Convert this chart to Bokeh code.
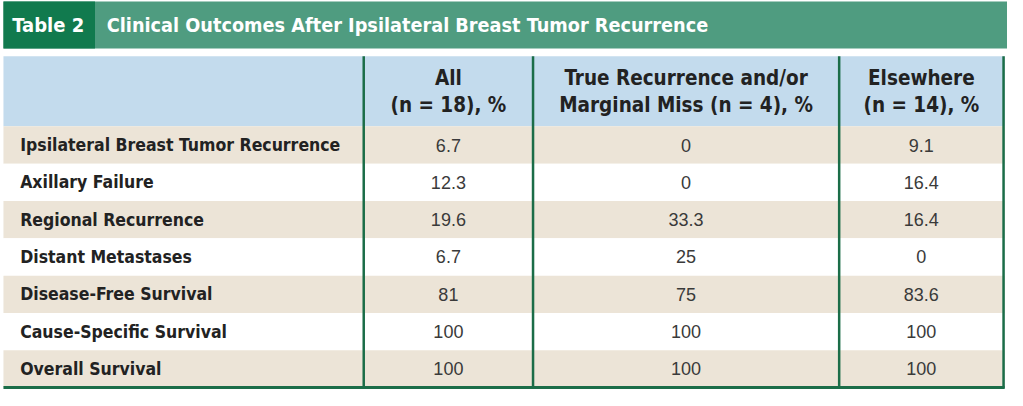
from bokeh.plotting import figure
from bokeh.models import Range1d, ColumnDataSource
from bokeh.core.properties import value
from bokeh.embed import file_html
from bokeh.resources import INLINE

# ---- data ----
table_label = "Table 2"
title = "Clinical Outcomes After Ipsilateral Breast Tumor Recurrence"
col_head_line1 = ["All", "True Recurrence and/or", "Elsewhere"]
col_head_line2 = ["(n = 18), %", "Marginal Miss (n = 4), %", "(n = 14), %"]
outcomes = ["Ipsilateral Breast Tumor Recurrence", "Axillary Failure", "Regional Recurrence",
            "Distant Metastases", "Disease-Free Survival", "Cause-Specific Survival", "Overall Survival"]
all_pct = ["6.7", "12.3", "19.6", "6.7", "81", "100", "100"]
true_rec_pct = ["0", "0", "33.3", "25", "75", "100", "100"]
elsewhere_pct = ["9.1", "16.4", "16.4", "0", "83.6", "100", "100"]

# ---- layout (in reference pixel coordinates) ----
W, H = 1023, 406
COND = value("DejaVu Sans Condensed, Roboto, sans-serif")
PLAIN = value("Liberation Sans")
DARK_GREEN = "#117a4e"
MID_GREEN = "#4f9c80"
LINE_GREEN = "#1b6d48"
BLUE = "#c3dbed"
BEIGE = "#ece4d7"
TEXT = "#222222"
NUM = "#3a3a3a"

p = figure(width=1007, height=390, output_backend="svg", toolbar_location=None,
           x_range=Range1d(0, W), y_range=Range1d(H, 0), min_border=0)
p.axis.visible = False
p.grid.visible = False
p.outline_line_color = None
p.background_fill_color = "white"
p.border_fill_color = "white"

# title bar
p.quad(left=[3], right=[W], top=[1], bottom=[50], fill_color=MID_GREEN, line_color=None)
p.quad(left=[3], right=[96], top=[1], bottom=[50], fill_color=DARK_GREEN, line_color=None)
p.text(x=[12], y=[26], text=[table_label], text_font=COND, text_font_style="bold",
       text_font_size="20px", text_color="white", text_baseline="middle", text_align="left")
p.text(x=[108], y=[26], text=[title], text_font=COND, text_font_style="bold",
       text_font_size="19.7px", text_color="white", text_baseline="middle", text_align="left")

# header band
table_left, table_right = 3, 1020
header_top, header_bottom = 58, 131
row_h = (403 - header_bottom) / len(outcomes)
col_edges = [369, 541, 852, 1019]
col_centers = [(col_edges[i] + col_edges[i + 1]) / 2 for i in range(3)]

p.quad(left=[table_left], right=[table_right], top=[header_top], bottom=[header_bottom],
       fill_color=BLUE, line_color=None)
p.text(x=col_centers, y=[81] * 3, text=col_head_line1, text_font=COND, text_font_style="bold",
       text_font_size="20.5px", text_color=TEXT, text_baseline="middle", text_align="center")
p.text(x=col_centers, y=[109] * 3, text=col_head_line2, text_font=COND, text_font_style="bold",
       text_font_size="20.5px", text_color=TEXT, text_baseline="middle", text_align="center")

# body rows
n = len(outcomes)
tops = [header_bottom + i * row_h for i in range(n)]
src = ColumnDataSource(dict(
    top=tops,
    bottom=[t + row_h for t in tops],
    mid=[t + row_h / 2 for t in tops],
    color=[BEIGE if i % 2 == 0 else "white" for i in range(n)],
    label=outcomes,
    a=all_pct, b=true_rec_pct, c=elsewhere_pct,
))
p.quad(left=table_left, right=table_right, top="top", bottom="bottom", fill_color="color",
       line_color=None, source=src)
p.text(x=20, y="mid", text="label", text_font=COND, text_font_style="bold", text_font_size="17.5px",
       text_color=TEXT, text_baseline="middle", text_align="left", source=src)
for cx, col in zip(col_centers, ["a", "b", "c"]):
    p.text(x=cx, y="mid", text=col, text_font=PLAIN, text_font_size="18px", text_color=NUM,
           text_baseline="middle", text_align="center", source=src)

# rules
p.segment(x0=col_edges, y0=[header_top] * 4, x1=col_edges, y1=[404] * 4,
          line_color=LINE_GREEN, line_width=2.5)
p.segment(x0=[table_left], y0=[403], x1=[table_right], y1=[403], line_color=LINE_GREEN, line_width=3)

open("out.html", "w").write(file_html(p, INLINE))
